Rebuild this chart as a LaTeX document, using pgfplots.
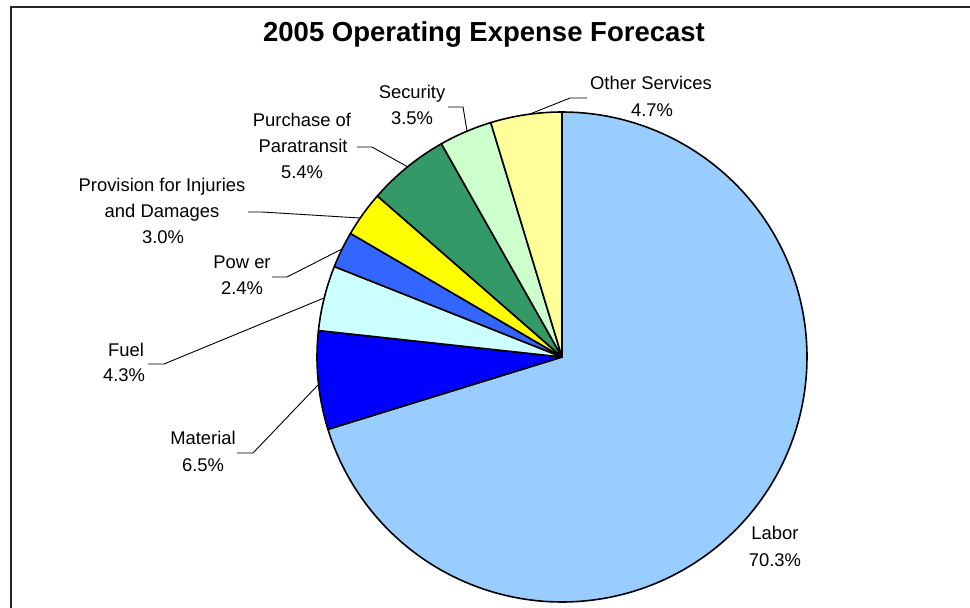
\documentclass[border=0pt]{standalone}
\usepackage{pgfplots}
\pgfplotsset{compat=1.18}
\usepackage{fontspec}
\setmainfont{Liberation Sans}
\definecolor{cLabor}{HTML}{99CCFF}
\definecolor{cMaterial}{HTML}{0000FF}
\definecolor{cFuel}{HTML}{CCFFFF}
\definecolor{cPower}{HTML}{3366FF}
\definecolor{cProv}{HTML}{FFFF00}
\definecolor{cPurch}{HTML}{339966}
\definecolor{cSec}{HTML}{CCFFCC}
\definecolor{cOther}{HTML}{FFFF99}
% data (percent of total)
\def\vLabor{70.3}
\def\vMaterial{6.5}
\def\vFuel{4.3}
\def\vPower{2.4}
\def\vProv{3.0}
\def\vPurch{5.4}
\def\vSec{3.5}
\def\vOther{4.7}
\pgfmathsetmacro\total{\vLabor+\vMaterial+\vFuel+\vPower+\vProv+\vPurch+\vSec+\vOther}
\pgfmathsetmacro\k{360/\total}
\pgfmathsetmacro\aA{90}
\pgfmathsetmacro\aB{\aA-\k*\vLabor}
\pgfmathsetmacro\aC{\aB-\k*\vMaterial}
\pgfmathsetmacro\aD{\aC-\k*\vFuel}
\pgfmathsetmacro\aE{\aD-\k*\vPower}
\pgfmathsetmacro\aF{\aE-\k*\vProv}
\pgfmathsetmacro\aG{\aF-\k*\vPurch}
\pgfmathsetmacro\aH{\aG-\k*\vSec}
\pgfmathsetmacro\aI{\aH-\k*\vOther}
\def\cx{562}\def\cy{357}\def\R{245}
\newcommand{\lab}[3]{\node[anchor=base,inner sep=0pt,font=\fontsize{18.4}{22}\selectfont] at (axis cs:#1,#2+6.6) {#3};}
\begin{document}
\begin{tikzpicture}
\begin{axis}[
  scale only axis, width=970pt, height=608pt,
  xmin=0, xmax=970, ymin=0, ymax=608, y dir=reverse,
  hide axis, clip=true,
]
% full canvas as bounding box
\path (axis cs:0,0) rectangle (axis cs:970,608);
% frame
\draw[line width=2pt, black!85] (axis cs:11,608) -- (axis cs:11,7) -- (axis cs:970,7);
% slices
\pgfplotsset{slice/.style={draw=black, line width=1.6pt, line join=round, variable=\t, no markers}}
\addplot[slice, fill=cLabor, domain=\aB:\aA, samples=200] ({\cx+\R*cos(\t)},{\cy-\R*sin(\t)}) -- (axis cs:\cx,\cy) -- cycle;
\addplot[slice, fill=cMaterial, domain=\aC:\aB, samples=30] ({\cx+\R*cos(\t)},{\cy-\R*sin(\t)}) -- (axis cs:\cx,\cy) -- cycle;
\addplot[slice, fill=cFuel, domain=\aD:\aC, samples=30] ({\cx+\R*cos(\t)},{\cy-\R*sin(\t)}) -- (axis cs:\cx,\cy) -- cycle;
\addplot[slice, fill=cPower, domain=\aE:\aD, samples=20] ({\cx+\R*cos(\t)},{\cy-\R*sin(\t)}) -- (axis cs:\cx,\cy) -- cycle;
\addplot[slice, fill=cProv, domain=\aF:\aE, samples=20] ({\cx+\R*cos(\t)},{\cy-\R*sin(\t)}) -- (axis cs:\cx,\cy) -- cycle;
\addplot[slice, fill=cPurch, domain=\aG:\aF, samples=30] ({\cx+\R*cos(\t)},{\cy-\R*sin(\t)}) -- (axis cs:\cx,\cy) -- cycle;
\addplot[slice, fill=cSec, domain=\aH:\aG, samples=20] ({\cx+\R*cos(\t)},{\cy-\R*sin(\t)}) -- (axis cs:\cx,\cy) -- cycle;
\addplot[slice, fill=cOther, domain=\aI:\aH, samples=30] ({\cx+\R*cos(\t)},{\cy-\R*sin(\t)}) -- (axis cs:\cx,\cy) -- cycle;
% leader lines
\pgfplotsset{leader/.style={draw=black, line width=0.9pt, no markers}}
\addplot[leader] coordinates {(530,114) (570,98) (587,98)};
\addplot[leader] coordinates {(448,107) (463,107) (467,131)};
\addplot[leader] coordinates {(357,147) (372,147) (408,167)};
\addplot[leader] coordinates {(248,212) (262,212) (360,218)};
\addplot[leader] coordinates {(272,277) (287,277) (342,249)};
\addplot[leader] coordinates {(148,364) (164,364) (324,298)};
\addplot[leader] coordinates {(237,453) (253,453) (318,385)};
% title
\node[anchor=base,inner sep=0pt,font=\fontsize{27.5}{30}\selectfont\bfseries] at (axis cs:484,41) {2005 Operating Expense Forecast};
% labels
\lab{651}{83}{Other Services}
\lab{652}{110}{4.7\%}
\lab{412}{92}{Security}
\lab{412}{118}{3.5\%}
\lab{302}{120}{Purchase of}
\lab{303}{146}{Paratransit}
\lab{302}{172}{5.4\%}
\lab{162}{185}{Provision for Injuries}
\lab{162}{211}{and Damages}
\lab{163}{237}{3.0\%}
\lab{242}{262}{Pow er}
\lab{242}{288}{2.4\%}
\lab{126}{350}{Fuel}
\lab{124}{375}{4.3\%}
\lab{203}{438}{Material}
\lab{203}{465}{6.5\%}
\lab{775}{533}{Labor}
\lab{775}{560}{70.3\%}
\end{axis}
\end{tikzpicture}
\end{document}
